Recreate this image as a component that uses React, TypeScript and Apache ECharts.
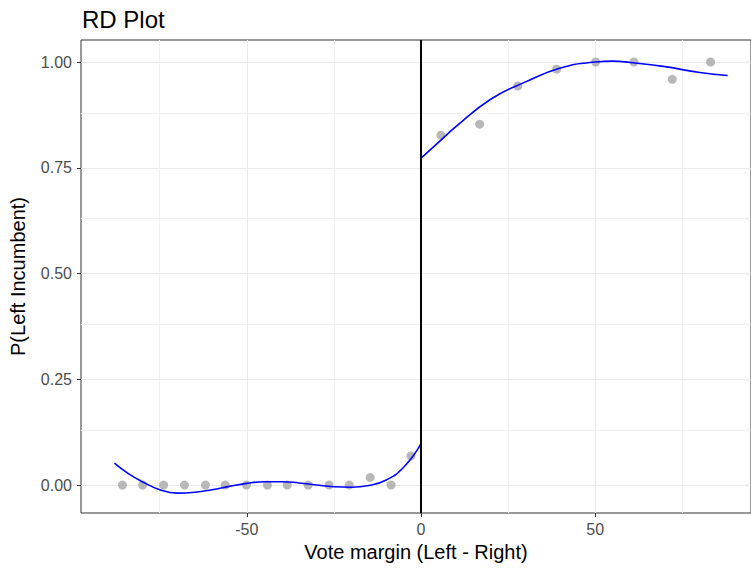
import React, { useEffect, useRef } from "react";
import * as echarts from "echarts";

// Binned means (Vote margin, P(Left Incumbent))
const leftBinX = [-85.7, -79.9, -73.9, -67.9, -61.9, -56.2, -50.1, -44.1, -38.4, -32.4, -26.4, -20.6, -14.6, -8.6, -2.9];
const leftBinY = [0, 0, 0, 0, 0, 0, 0, 0, 0, 0, 0, 0, 0.018, 0, 0.069];
const rightBinX = [5.7, 16.8, 27.8, 38.9, 50.1, 61.1, 72.1, 83.1];
const rightBinY = [0.827, 0.853, 0.943, 0.983, 1.0, 1.0, 0.959, 1.0];

// Fitted polynomial curves
const leftFitX = [-88, -84, -80, -75, -70, -65, -60, -55, -50, -45, -40, -35, -30, -25, -20, -15, -10, -5, 0];
const leftFitY = [0.052, 0.027, 0.008, -0.011, -0.019, -0.017, -0.011, -0.003, 0.004, 0.008, 0.008, 0.005, 0.0, -0.004, -0.005, -0.001, 0.012, 0.042, 0.098];
const rightFitX = [0, 5, 10, 20, 30, 40, 50, 55, 60, 70, 80, 88];
const rightFitY = [0.773, 0.81, 0.847, 0.912, 0.953, 0.986, 1.0, 1.002, 0.999, 0.989, 0.975, 0.968];

const xMajorTicks = [-50, 0, 50];
const xMinorTicks = [-75, -25, 25, 75];
const yMajorTicks = [0, 0.25, 0.5, 0.75, 1.0];
const yMinorTicks = [0.125, 0.375, 0.625, 0.875];
const cutoff = 0;

const FONT = "Liberation Sans, Arial, sans-serif";

export default function App() {
  const ref = useRef<HTMLDivElement>(null);
  useEffect(() => {
    if (!ref.current) return;
    const chart = echarts.init(ref.current, undefined, { renderer: "svg" });
    const zip = (xs: number[], ys: number[]) => xs.map((x, i) => [x, ys[i]]);
    const gridColor = "#ebebeb";
    chart.setOption({
      animation: false,
      backgroundColor: "#ffffff",
      textStyle: { fontFamily: FONT },
      title: {
        text: "RD Plot",
        left: 77,
        top: 2,
        textStyle: { fontFamily: FONT, fontSize: 24, fontWeight: "normal", color: "#000" },
      },
      grid: {
        left: 80,
        right: 0,
        top: 40,
        bottom: 56,
        show: true,
        borderColor: "#333333",
        borderWidth: 1,
        backgroundColor: "transparent",
      },
      xAxis: {
        type: "value",
        min: -97.6,
        max: 94.7,
        name: "Vote margin (Left - Right)",
        nameLocation: "middle",
        nameGap: 28,
        nameTextStyle: { fontFamily: FONT, fontSize: 20, color: "#000" },
        axisLine: { show: false, onZero: false },
        axisTick: { show: true, length: 4, lineStyle: { color: "#333" }, customValues: xMajorTicks },
        axisLabel: { customValues: xMajorTicks, color: "#4d4d4d", fontSize: 16, fontFamily: FONT, margin: 8 },
        splitLine: { show: true, lineStyle: { color: gridColor, width: 1 } },
      },
      yAxis: {
        type: "value",
        min: -0.066,
        max: 1.052,
        name: "P(Left Incumbent)",
        nameLocation: "middle",
        nameGap: 53,
        nameRotate: 90,
        nameTextStyle: { fontFamily: FONT, fontSize: 20, color: "#000" },
        axisLine: { show: false, onZero: false },
        axisTick: { show: true, length: 4, lineStyle: { color: "#333" }, customValues: yMajorTicks },
        axisLabel: {
          customValues: yMajorTicks,
          color: "#4d4d4d",
          fontSize: 16,
          fontFamily: FONT,
          margin: 9,
          formatter: (v: number) => v.toFixed(2),
        },
        splitLine: { show: true, lineStyle: { color: gridColor, width: 1 } },
      },
      series: [
        {
          type: "line",
          data: [],
          silent: true,
          z: 0,
          markLine: {
            silent: true,
            z: 0,
            symbol: "none",
            label: { show: false },
            lineStyle: { color: "#f0f0f0", width: 1, type: "solid" },
            data: [
              ...xMinorTicks.map((v) => ({ xAxis: v })),
              ...yMinorTicks.map((v) => ({ yAxis: v })),
            ],
          },
        },
        {
          type: "scatter",
          data: [...zip(leftBinX, leftBinY), ...zip(rightBinX, rightBinY)],
          symbolSize: 9,
          itemStyle: { color: "#a6a6a6" },
          z: 2,
        },
        {
          type: "line",
          data: zip(leftFitX, leftFitY),
          smooth: true,
          showSymbol: false,
          lineStyle: { color: "#0000ff", width: 1.6 },
          z: 3,
        },
        {
          type: "line",
          data: zip(rightFitX, rightFitY),
          smooth: true,
          showSymbol: false,
          lineStyle: { color: "#0000ff", width: 1.6 },
          z: 3,
          markLine: {
            silent: true,
            z: 4,
            symbol: "none",
            label: { show: false },
            lineStyle: { color: "#000", width: 2, type: "solid" },
            data: [{ xAxis: cutoff }],
          },
        },
      ],
    });
    return () => chart.dispose();
  }, []);
  return <div ref={ref} style={{ width: 751, height: 569, position: "absolute", left: 0, top: 0 }} />;
}
